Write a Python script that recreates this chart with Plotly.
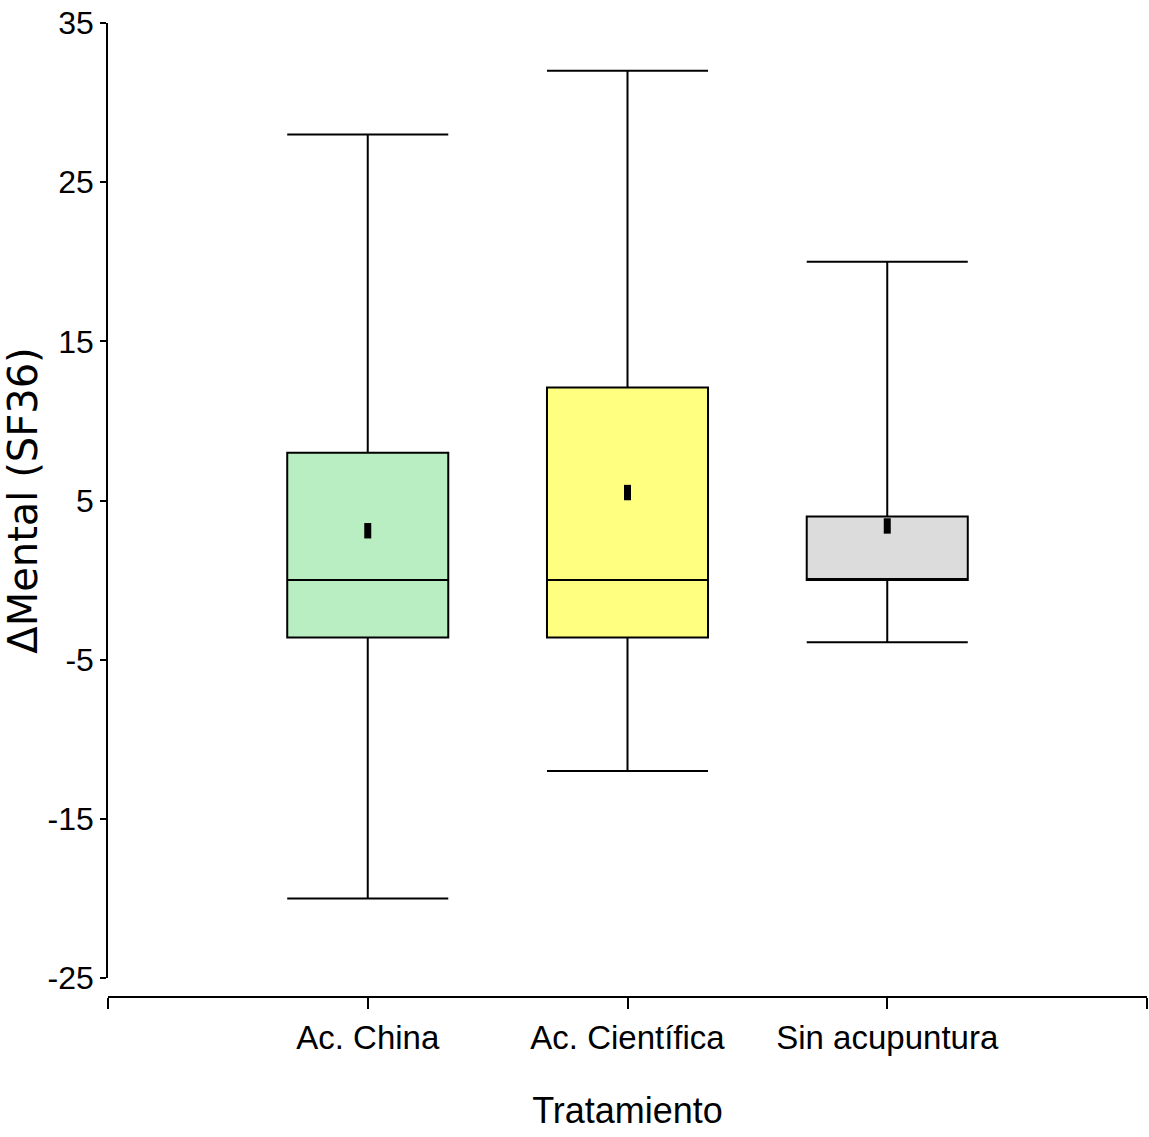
import plotly.graph_objects as go

# Change in SF-36 mental component by treatment group
groups = ["Ac. China", "Ac. Científica", "Sin acupuntura"]
positions = [0, 1, 2]
lower_whisker = [-20, -12, -3.9]
q1 = [-3.6, -3.6, 0]
median = [0, 0, 0]
q3 = [8.0, 12.1, 4.0]
upper_whisker = [28, 32, 20]
means = [3.1, 5.5, 3.4]
fill_colors = ["#B9EDC2", "#FFFF80", "#DCDCDC"]

y_ticks = [-25, -15, -5, 5, 15, 25, 35]
y_ticktext = [str(v) for v in y_ticks]  # plain hyphen for negatives

label_font = "Liberation Sans Narrow, Arial Narrow, Liberation Sans, Arial, sans-serif"

fig = go.Figure()

for i, name in enumerate(groups):
    fig.add_trace(go.Box(
        x=[positions[i]],
        q1=[q1[i]], median=[median[i]], q3=[q3[i]],
        lowerfence=[lower_whisker[i]], upperfence=[upper_whisker[i]],
        name=name,
        width=0.62,
        whiskerwidth=1,
        fillcolor=fill_colors[i],
        line=dict(color="black", width=2),
        boxpoints=False,
        hoverinfo="skip",
        showlegend=False,
    ))

fig.add_trace(go.Scatter(
    x=positions, y=means, mode="markers",
    marker=dict(symbol="line-ns", size=11, color="black",
                line=dict(color="black", width=7)),
    showlegend=False, hoverinfo="skip",
))

# category ticks plus end ticks on the axis range
x_tickvals = [positions[0] - 1] + positions + [positions[-1] + 1]
x_ticktext = [""] + groups + [""]

fig.update_layout(
    width=1149, height=1137,
    margin=dict(l=108, r=2, t=23, b=140),
    plot_bgcolor="white", paper_bgcolor="white",
    xaxis=dict(
        range=[positions[0] - 1, positions[-1] + 1],
        tickvals=x_tickvals, ticktext=x_ticktext,
        showline=True, linecolor="black", linewidth=2,
        ticks="outside", ticklen=11, tickwidth=1.5, tickcolor="black",
        showgrid=False, zeroline=False,
        anchor="free", position=0,
        tickfont=dict(family=label_font, size=33, color="black"),
        title=dict(text="Tratamiento", font=dict(family=label_font, size=36, color="black"), standoff=42),
    ),
    yaxis=dict(
        range=[-25, 35],
        domain=[0.0195, 1],
        tickvals=y_ticks, ticktext=y_ticktext,
        showline=True, linecolor="black", linewidth=1.5,
        ticks="outside", ticklen=6, tickwidth=1.5, tickcolor="black",
        showgrid=False, zeroline=False,
        tickfont=dict(family=label_font, size=32, color="black"),
        title=dict(text="ΔMental (SF36)", font=dict(family="DejaVu Sans, Arial, sans-serif", size=40, color="black"), standoff=4),
    ),
)

fig.write_html("out.html")
